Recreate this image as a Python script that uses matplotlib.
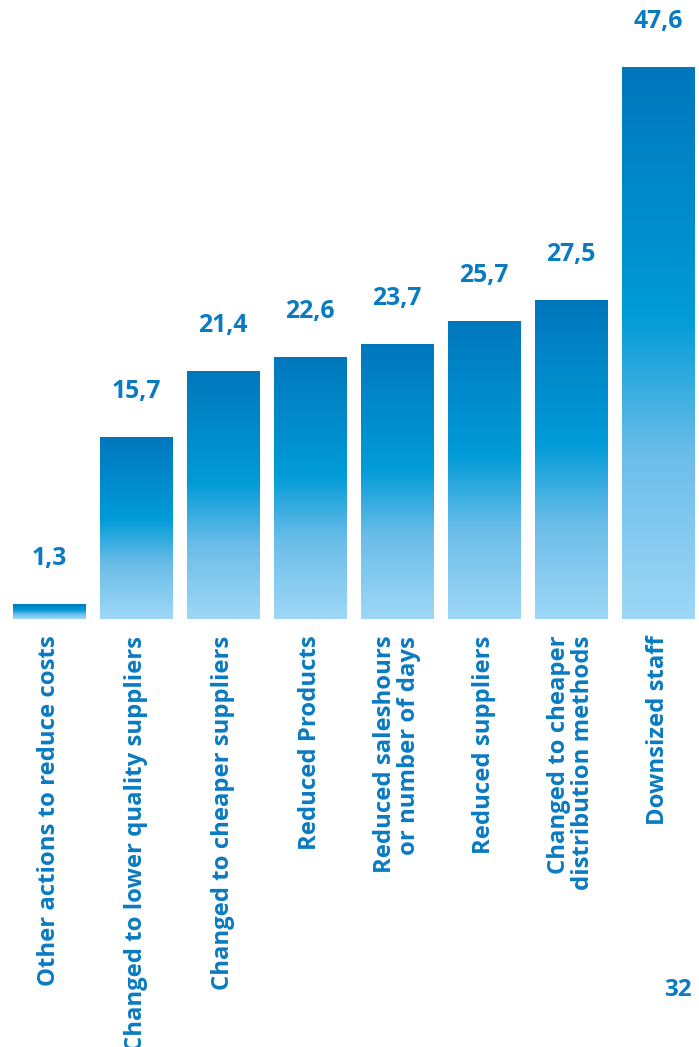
import numpy as np
import matplotlib.pyplot as plt
from matplotlib.colors import LinearSegmentedColormap

categories = [
    "Other actions to reduce costs",
    "Changed to lower quality suppliers",
    "Changed to cheaper suppliers",
    "Reduced Products",
    "Reduced saleshours\nor number of days",
    "Reduced suppliers",
    "Changed to cheaper\ndistribution methods",
    "Downsized staff",
]
values = [1.3, 15.7, 21.4, 22.6, 23.7, 25.7, 27.5, 47.6]
value_labels = ["1,3", "15,7", "21,4", "22,6", "23,7", "25,7", "27,5", "47,6"]
page_number = "32"

BLUE = "#0a7bc2"
plt.rcParams['font.family'] = ['Open Sans', 'DejaVu Sans']

# gradient: dark on top, cyan in the middle, pale at the bottom
cmap = LinearSegmentedColormap.from_list(
    "bar", [(0.0, "#9ed7f6"), (0.3, "#6bbde9"), (0.55, "#009bd7"), (1.0, "#0077bd")])
grad = np.linspace(1, 0, 256).reshape(-1, 1)

fig = plt.figure(figsize=(6.99, 10.47), dpi=100)
ax = fig.add_axes([0, 1 - 619 / 1047, 1, 619 / 1047])

x = np.arange(len(values))
width = 0.83
bars = ax.bar(x, values, width=width, color="none", edgecolor="none")
for b, v, lab in zip(bars, values, value_labels):
    x0 = b.get_x()
    im = ax.imshow(grad, extent=[x0, x0 + width, 0, v], cmap=cmap,
                   aspect="auto", zorder=2, interpolation="bilinear")
    im.set_clip_path(b)
    ax.annotate(lab, (x0 + width / 2, v), xytext=(0, 28), textcoords="offset points",
                ha="center", va="baseline", fontsize=17.8, fontweight="bold", color=BLUE)

ax.set_xlim(-0.563, 7.47)
ax.set_ylim(0, 47.6 * 619 / 552)
for s in ax.spines.values():
    s.set_visible(False)
ax.set_yticks([])
ax.set_xticks(x)
ax.set_xticklabels(categories, rotation=90, ha="center", va="top", linespacing=1.0,
                   multialignment="right", fontsize=17.2, fontweight="bold", color=BLUE)
ax.tick_params(axis="x", length=0, pad=12)

fig.text(0.99, 1 - 990 / 1047, page_number, ha="right", va="center",
         fontsize=17.5, fontweight="bold", color=BLUE)

fig.savefig("out.png", dpi=100)
